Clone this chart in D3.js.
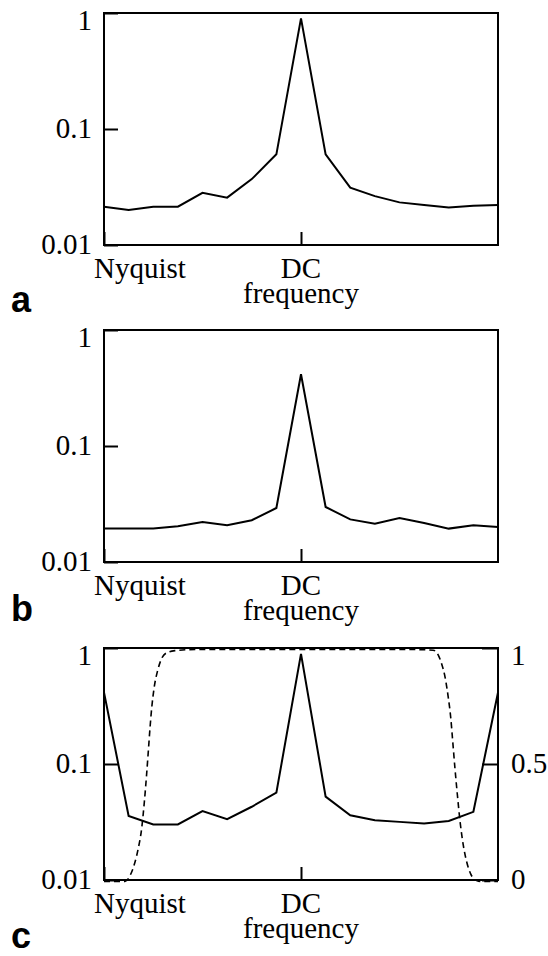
<!DOCTYPE html>
<html>
<head>
<meta charset="utf-8">
<script src="https://cdn.jsdelivr.net/npm/d3@7/dist/d3.min.js"></script>
</head>
<body style="margin:0">
<svg id="chart" width="548" height="956"></svg>
<script>
// Frequency bins from Nyquist (-8) through DC (0) to the opposite Nyquist (+8)
const freqBins = [-8, -7, -6, -5, -4, -3, -2, -1, 0, 1, 2, 3, 4, 5, 6, 7, 8];

// Normalised power spectra (log scale)
const powerA = [0.0214, 0.0200, 0.0214, 0.0214, 0.0282, 0.0256, 0.0370, 0.0605, 0.90,
                0.0605, 0.0312, 0.0264, 0.0233, 0.0221, 0.0211, 0.0218, 0.0221];
const powerB = [0.0194, 0.0194, 0.0194, 0.0203, 0.0221, 0.0207, 0.0229, 0.0292, 0.415,
                0.0298, 0.0233, 0.0214, 0.0239, 0.0217, 0.0194, 0.0207, 0.0200];
const powerC = [0.414, 0.0357, 0.0301, 0.0301, 0.0393, 0.0334, 0.0428, 0.0566, 0.89,
                0.0523, 0.0362, 0.0328, 0.0317, 0.0307, 0.0323, 0.0387, 0.414];

// Filter window (linear right-hand axis), sampled along the frequency axis
const windowFreq = [-8, -7.15, -6.94, -6.74, -6.61, -6.47, -6.36, -6.27, -6.20, -6.13, -6.06,
                    -5.96, -5.82, -5.66, -5.45, -5.12, -4.30,
                    4.40, 5.37, 5.58, 5.71, 5.85, 5.98, 6.08, 6.16, 6.25, 6.35, 6.46, 6.59,
                    6.73, 6.89, 7.13, 7.30, 8];
const windowGain = [0, 0, 0.026, 0.084, 0.142, 0.229, 0.345, 0.461, 0.562, 0.664, 0.751,
                    0.838, 0.910, 0.961, 0.986, 0.995, 1.0,
                    1.0, 0.997, 0.975, 0.939, 0.881, 0.794, 0.707, 0.606, 0.490, 0.374, 0.258, 0.157,
                    0.084, 0.033, 0.004, 0, 0];

// Axis tick values and labels
const logTicks = [0.01, 0.1, 1];
const linTicks = [0, 0.5, 1];
const bottomTicks = [-8, 0];
const bottomLabels = ["Nyquist", "DC"];
const axisTitle = "frequency";

const panels = [
  { letter: "a", power: powerA, top: 13,  letterY: 312, showWindow: false },
  { letter: "b", power: powerB, top: 330, letterY: 621, showWindow: false },
  { letter: "c", power: powerC, top: 648, letterY: 948, showWindow: true }
];

const svg = d3.select("#chart");
const left = 104, right = 498, plotH = 232;
const fmt = d3.format("~g");
const SERIF = "'Liberation Serif'";

const x = d3.scaleLinear().domain([freqBins[0], freqBins[freqBins.length - 1]]).range([left, right]);

// Serif text placed directly on the root svg
function label(txt, px, py, anchor, dy) {
  return svg.append("text")
    .attr("class", "serif-label")
    .attr("x", px).attr("y", py)
    .attr("dy", dy || null)
    .attr("text-anchor", anchor)
    .style("font-family", SERIF)
    .style("font-size", "29px")
    .style("fill", "#000")
    .text(txt);
}

// Tick marks only (labels are drawn separately)
function ticksOnly(axisSel) {
  axisSel.select(".domain").remove();
  axisSel.selectAll("text").remove();
  axisSel.selectAll("line").attr("stroke", "#000").attr("stroke-width", 2);
}

panels.forEach(p => {
  const top = p.top, bottom = top + plotH;
  const y = d3.scaleLog().domain([0.01, 1]).range([bottom, top]);
  const g = svg.append("g");

  // Left (log) axis: inward ticks
  g.append("g")
    .attr("transform", `translate(${left},0)`)
    .call(d3.axisLeft(y).tickValues(logTicks).tickSizeInner(-14).tickSizeOuter(0))
    .call(ticksOnly);
  logTicks.forEach(v => label(fmt(v), left - 12, y(v), "end", v === 1 ? "0.6em" : "0.32em"));

  // Bottom axis: DC tick mark
  g.append("g")
    .attr("transform", `translate(0,${bottom})`)
    .call(d3.axisBottom(x).tickValues(bottomTicks).tickSizeInner(-13).tickSizeOuter(0))
    .call(ticksOnly);
  bottomTicks.forEach((v, i) =>
    label(bottomLabels[i], i === 0 ? x(v) - 10 : x(v), bottom + 33, i === 0 ? "start" : "middle"));
  label(axisTitle, x(0), bottom + 58, "middle");

  if (p.showWindow) {
    const y2 = d3.scaleLinear().domain([0, 1]).range([bottom, top]);
    g.append("g")
      .attr("transform", `translate(${right},0)`)
      .call(d3.axisRight(y2).tickValues(linTicks).tickSizeInner(-16).tickSizeOuter(0))
      .call(ticksOnly);
    linTicks.forEach(v => label(fmt(v), right + 13, y2(v), "start", v === 1 ? "0.6em" : "0.32em"));

    const windowPts = windowFreq.map((f, i) => [f, windowGain[i]]);
    g.append("path")
      .datum(windowPts)
      .attr("fill", "none")
      .attr("stroke", "#000")
      .attr("stroke-width", 1.6)
      .attr("stroke-dasharray", "6,4")
      .attr("d", d3.line().x(d => x(d[0])).y(d => y2(d[1]) + 1.5).curve(d3.curveMonotoneX));
  }

  // Spectrum line
  g.append("path")
    .datum(freqBins.map((f, i) => [f, p.power[i]]))
    .attr("fill", "none")
    .attr("stroke", "#000")
    .attr("stroke-width", 2)
    .attr("stroke-linejoin", "miter")
    .attr("d", d3.line().x(d => x(d[0])).y(d => y(d[1])));

  // Frame
  g.append("rect")
    .attr("x", left).attr("y", top)
    .attr("width", right - left).attr("height", plotH)
    .attr("fill", "none").attr("stroke", "#000").attr("stroke-width", 2);

  svg.append("text")
    .style("font-family", "'Liberation Sans'").style("font-weight", "bold").style("font-size", "36px")
    .style("fill", "#000")
    .attr("x", 11).attr("y", p.letterY)
    .text(p.letter);
});

// Re-apply the serif face once the font is ready (the chart is already drawn above)
if (document.fonts && document.fonts.load) {
  document.fonts.load("29px 'Liberation Serif'").then(() => {
    svg.selectAll("text.serif-label").style("font-family", SERIF);
  }).catch(() => {});
}
</script>
</body>
</html>
